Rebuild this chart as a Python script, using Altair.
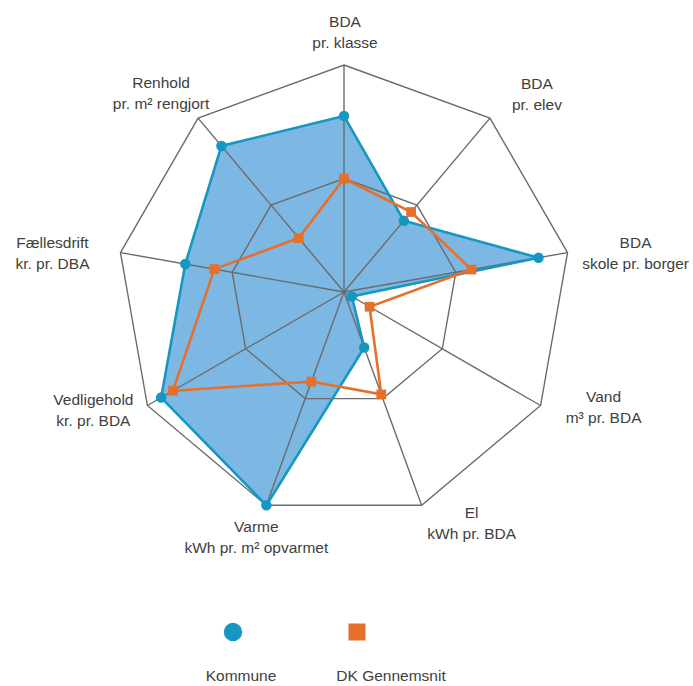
import math
import altair as alt
import pandas as pd

# ---- data ----
categories = [
    "BDA\npr. klasse",
    "BDA\npr. elev",
    "BDA\nskole pr. borger",
    "Vand\nm³ pr. BDA",
    "El\nkWh pr. BDA",
    "Varme\nkWh pr. m² opvarmet",
    "Vedligehold\nkr. pr. BDA",
    "Fællesdrift\nkr. pr. DBA",
    "Renhold\npr. m² rengjort",
]
kommune = [0.775, 0.41, 0.87, 0.04, 0.26, 1.0, 0.93, 0.71, 0.84]
dk_gennemsnit = [0.50, 0.46, 0.57, 0.13, 0.48, 0.42, 0.87, 0.58, 0.31]
series_names = ["Kommune", "DK Gennemsnit"]
grid_levels = [0.5, 1.0]

# ---- layout / style ----
W, H = 693, 686
CX, CY, R = 344, 292, 227
BLUE_FILL = "#7db8e5"
BLUE = "#1597c2"
ORANGE = "#e6702a"
GRID = "#6b6b6b"
TEXT = "#404040"
FONT = "Liberation Sans"
LINE_H = 21
# label offsets (pixels) from each outer vertex to the middle of the first line
label_offsets = [(1, -43), (47, -34), (68, -10), (63, -9), (50, 8),
                 (-10, 22), (-54, -6), (-68, -10), (-37, -35)]
# legend anchors (pixels)
legend_symbol_px = [(233, 632), (357, 632)]
legend_label_px = [(241, 676), (391, 676)]


def ux(px):
    return (px - CX) / R


def uy(py):
    return (CY - py) / R


n = len(categories)
angles = [2 * math.pi * i / n for i in range(n)]


def polar(r, a):
    return r * math.sin(a), r * math.cos(a)


rows = []
for s, vals in zip(series_names, [kommune, dk_gennemsnit]):
    for i, v in enumerate(vals):
        x, y = polar(v, angles[i])
        rows.append(dict(series=s, cat=categories[i], value=v, x=x, y=y, order=i))
df = pd.DataFrame(rows)

grid_rows = []
for lv in grid_levels:
    for i in range(n):
        x, y = polar(lv, angles[i])
        grid_rows.append(dict(level=lv, x=x, y=y, order=i))
grid_df = pd.DataFrame(grid_rows)

spoke_rows = []
for i in range(n):
    x, y = polar(1.0, angles[i])
    spoke_rows.append(dict(cat=categories[i], x=0.0, y=0.0, x2=x, y2=y))
spoke_df = pd.DataFrame(spoke_rows)

label_rows = []
for i in range(n):
    x, y = polar(1.0, angles[i])
    dx, dy = label_offsets[i]
    label_rows.append(dict(label=categories[i], x=x + dx / R, y=y - dy / R))
label_df = pd.DataFrame(label_rows)

legend_df = pd.DataFrame(dict(
    series=series_names,
    sx=[ux(p[0]) for p in legend_symbol_px],
    sy=[uy(p[1]) for p in legend_symbol_px],
    lx=[ux(p[0]) for p in legend_label_px],
    ly=[uy(p[1]) for p in legend_label_px],
))

xs = alt.Scale(domain=[ux(0), ux(W)], nice=False, zero=False)
ys = alt.Scale(domain=[uy(H), uy(0)], nice=False, zero=False)

kdf = df[df.series == "Kommune"]
odf = df[df.series == "DK Gennemsnit"]

fill_layer = alt.Chart(kdf).mark_line(
    interpolate="linear-closed", fill=BLUE_FILL, fillOpacity=1, strokeWidth=0
).encode(
    x=alt.X("x:Q", scale=xs, axis=None),
    y=alt.Y("y:Q", scale=ys, axis=None),
    order="order:Q",
)

rings = alt.Chart(grid_df).mark_line(
    interpolate="linear-closed", color=GRID, strokeWidth=1.4
).encode(
    x=alt.X("x:Q", scale=xs, axis=None),
    y=alt.Y("y:Q", scale=ys, axis=None),
    detail="level:N",
    order="order:Q",
)

spokes = alt.Chart(spoke_df).mark_rule(color=GRID, strokeWidth=1.4).encode(
    x=alt.X("x:Q", scale=xs, axis=None),
    y=alt.Y("y:Q", scale=ys, axis=None),
    x2="x2:Q",
    y2="y2:Q",
)

k_line = alt.Chart(kdf).mark_line(
    interpolate="linear-closed", color=BLUE, strokeWidth=2.6
).encode(
    x=alt.X("x:Q", scale=xs, axis=None),
    y=alt.Y("y:Q", scale=ys, axis=None),
    order="order:Q",
)
k_pts = alt.Chart(kdf).mark_point(
    filled=True, shape="circle", size=110, color=BLUE, opacity=1
).encode(
    x=alt.X("x:Q", scale=xs, axis=None),
    y=alt.Y("y:Q", scale=ys, axis=None),
)

o_line = alt.Chart(odf).mark_line(
    interpolate="linear-closed", color=ORANGE, strokeWidth=2.6
).encode(
    x=alt.X("x:Q", scale=xs, axis=None),
    y=alt.Y("y:Q", scale=ys, axis=None),
    order="order:Q",
)
o_pts = alt.Chart(odf).mark_point(
    filled=True, shape="square", size=95, color=ORANGE, opacity=1
).encode(
    x=alt.X("x:Q", scale=xs, axis=None),
    y=alt.Y("y:Q", scale=ys, axis=None),
)

labels = alt.Chart(label_df).mark_text(
    font=FONT, fontSize=15.5, color=TEXT, align="center", baseline="middle",
    lineBreak="\n", lineHeight=LINE_H
).encode(
    x=alt.X("x:Q", scale=xs, axis=None),
    y=alt.Y("y:Q", scale=ys, axis=None),
    text="label:N",
)

leg_sym = alt.Chart(legend_df).mark_point(filled=True, opacity=1).encode(
    x=alt.X("sx:Q", scale=xs, axis=None),
    y=alt.Y("sy:Q", scale=ys, axis=None),
    color=alt.Color("series:N", scale=alt.Scale(domain=series_names, range=[BLUE, ORANGE]), legend=None),
    shape=alt.Shape("series:N", scale=alt.Scale(domain=series_names, range=["circle", "square"]), legend=None),
    size=alt.Size("series:N", scale=alt.Scale(domain=series_names, range=[340, 290]), legend=None),
)
leg_txt = alt.Chart(legend_df).mark_text(
    font=FONT, fontSize=15.5, color=TEXT, align="center", baseline="middle"
).encode(
    x=alt.X("lx:Q", scale=xs, axis=None),
    y=alt.Y("ly:Q", scale=ys, axis=None),
    text="series:N",
)

chart = alt.layer(
    fill_layer, rings, spokes, k_line, k_pts, o_line, o_pts, labels, leg_sym, leg_txt
).properties(
    width=W, height=H, padding=0,
    autosize=alt.AutoSizeParams(type="none"),
    background="white",
).configure_view(stroke=None)

chart.save("out.html", embed_options={"renderer": "svg", "actions": False})
